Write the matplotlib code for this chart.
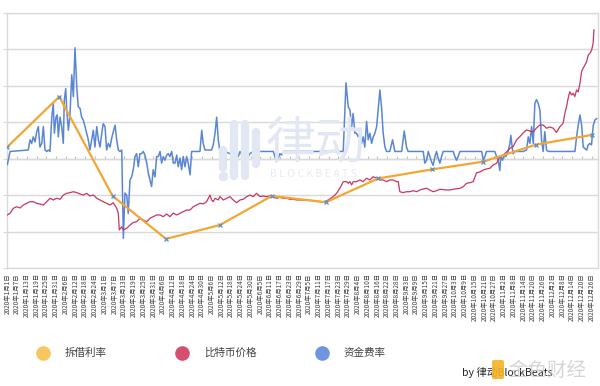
import matplotlib
matplotlib.use("Agg")
import matplotlib.pyplot as plt
from matplotlib.lines import Line2D
from matplotlib.patches import FancyBboxPatch
import pandas as pd
import numpy as np

plt.rcParams['font.family'] = ['Noto Sans CJK SC', 'DejaVu Sans']

# ---------------- data ----------------
series_names = ["拆借利率", "比特币价格", "资金费率"]

# 拆借利率 (borrow rate, %), day index from 2020-01-01
rate_days = [0, 32.0, 64.9, 97.8, 131.0, 162.9, 196.3, 228.5, 262.0, 293.2, 326.0, 360.0]
rate_vals = [6.65, 9.40, 3.96, 1.61, 2.37, 3.96, 3.62, 4.92, 5.42, 5.84, 6.78, 7.30]

# 比特币价格 (USD)
price_days = [0, 1.7, 3.7, 5.8, 7.8, 9.9, 12.0, 14.0, 16.0, 18.1, 20.1, 22.2, 24.3, 26.3, 28.3, 30.4,
              32.5, 34.5, 36.6, 38.6, 40.7, 42.8, 44.8, 46.8, 48.9, 50.9, 53.0, 55.1, 57.1, 59.1, 61.2,
              63.3, 65.3, 67.4, 68.4, 69.0, 70.5, 71.5, 73.6, 75.6, 77.6, 79.7, 81.7, 83.8, 85.9, 87.9,
              89.9, 92.0, 94.1, 96.1, 98.2, 100.2, 102.3, 104.4, 106.4, 108.4, 110.5, 112.6, 114.6, 116.7,
              118.7, 120.8, 122.8, 124.9, 125.9, 126.9, 128.0, 130.0, 131.0, 133.1, 135.2, 137.2, 139.2,
              141.3, 143.4, 145.4, 147.5, 149.5, 151.5, 153.6, 155.7, 157.7, 159.8, 161.8, 163.9, 165.9,
              168.0, 170.0, 172.1, 174.2, 176.2, 178.3, 180.3, 184.4, 188.5, 192.6, 195.7, 197.7, 200.8,
              202.9, 204.9, 206.0, 207.0, 209.1, 210.1, 211.1, 212.2, 213.1, 215.2, 217.3, 219.3, 221.4,
              223.4, 225.5, 227.6, 229.6, 231.6, 233.7, 235.8, 237.8, 239.9, 240.9, 241.9, 243.9, 246.0,
              248.1, 250.1, 252.2, 254.2, 256.3, 258.4, 260.4, 262.4, 264.5, 266.6, 270.7, 272.7, 275.8,
              278.9, 281.0, 283.0, 285.1, 287.1, 289.2, 291.2, 293.3, 295.3, 297.4, 299.4, 301.5, 303.5,
              305.6, 307.6, 309.7, 311.7, 313.8, 315.8, 317.9, 319.9, 322.0, 324.0, 326.1, 328.2, 330.2,
              332.3, 334.3, 336.4, 338.4, 340.5, 342.5, 343.6, 344.6, 345.6, 346.6, 347.7, 348.7, 349.7,
              350.8, 351.8, 352.9, 353.9, 354.9, 356.0, 357.0, 358.0, 359.1, 360.1, 361.0, 361.5]
price_vals = [7260, 7460, 8040, 8230, 8080, 8430, 8630, 8820, 8820, 8630, 8550, 8430, 8820, 9220, 9020, 9220,
              9100, 9600, 9800, 9880, 9990, 9880, 9720, 9600, 9800, 9490, 9600, 9220, 9020, 8820, 8630,
              8430, 8700, 8040, 7460, 5500, 5880, 5500, 5700, 6080, 6380, 6470, 6870, 6670, 6470, 6870,
              7060, 7260, 7260, 7060, 7380, 7060, 7490, 7260, 7460, 7650, 7840, 7840, 8230, 8430,
              8630, 8550, 8820, 9600, 9020, 8820, 9220, 9020, 9410, 9020, 9220, 9410, 9020,
              8700, 9020, 9100, 9410, 9600, 9410, 9800, 9410, 9490, 9410, 9490, 9410, 9220,
              9340, 9220, 9220, 9100, 9100, 9020, 9020, 9020, 8940, 8820, 8820, 9020, 9410,
              9800, 10390, 10780, 11170, 11170, 10980, 11170, 10780, 11170, 11170, 11370, 11170, 11570,
              11370, 11750, 11570, 11370, 11370, 11170, 11370, 11370, 11170, 11170, 9990, 9880, 9990,
              9990, 10110, 9990, 10190, 10310, 10390, 10190, 9990, 10110, 10280, 10190, 10190, 10310,
              10390, 10580, 10980, 11050, 11170, 12220, 12310, 12540, 12660, 12740, 13130, 13330, 14100,
              14300, 14650, 15090, 15280, 16060, 16450, 16880, 17240, 17120, 17000, 17470, 17820, 17820,
              17440, 17590, 17440, 16940, 17620, 18020, 19200, 19970, 20960, 21730, 21350, 21550, 21150,
              21930, 21700, 22720, 24080, 24520, 24870, 25260, 26040, 26240, 26630, 27420, 28980]

# 资金费率 (funding rate, %)
fund_days = [0, 1.7, 12.9, 14.0, 15.0, 16.0, 17.1, 18.1, 19.1, 20.1, 21.2, 22.2, 23.2, 24.3, 25.3, 26.3,
             27.4, 28.3, 29.0, 30.0, 30.8, 31.4, 32.5, 33.5, 34.5, 35.1, 36.0, 36.6, 37.6, 38.6, 39.7,
             40.7, 41.7, 42.8, 43.7, 44.8, 45.8, 46.8, 47.9, 48.9, 49.9, 50.9, 52.0, 53.0, 54.0, 55.1,
             56.1, 57.1, 58.2, 59.1, 60.2, 61.2, 62.2, 63.3, 64.3, 65.3, 66.4, 67.4, 68.4, 69.4, 70.5,
             71.5, 72.5, 73.6, 74.5, 75.6, 76.6, 77.6, 78.7, 79.7, 80.7, 81.7, 82.8, 83.8, 84.8, 85.9,
             86.9, 87.9, 88.9, 89.9, 91.0, 92.0, 93.0, 94.1, 95.1, 96.1, 97.1, 98.2, 99.2, 100.2, 101.3,
             102.3, 103.3, 104.4, 105.3, 106.4, 107.4, 108.4, 109.5, 110.5, 111.5, 112.6, 113.6, 118.7,
             119.8, 120.7, 121.8, 125.9, 126.9, 128.0, 129.0, 130.0, 131.0, 134.1, 137.2, 139.2, 140.3,
             141.3, 142.3, 143.4, 144.4, 145.4, 146.4, 147.5, 148.5, 149.5, 151.5, 152.6, 153.2, 154.0,
             163.9, 164.9, 165.9, 167.0, 168.0, 169.0, 170.0, 207.0, 208.7, 210.1, 211.1, 212.2, 213.1,
             214.2, 215.2, 216.2, 217.3, 218.3, 219.3, 220.3, 221.4, 222.4, 223.4, 224.5, 225.5, 226.5,
             227.6, 228.5, 229.6, 230.6, 231.6, 232.7, 233.7, 235.7, 237.4, 238.8, 243.0, 244.6, 246.0,
             247.0, 256.3, 257.3, 258.4, 259.4, 260.4, 261.4, 262.4, 263.5, 264.5, 265.5, 266.6, 267.6,
             268.6, 274.8, 275.8, 276.8, 277.8, 278.9, 292.3, 293.3, 294.3, 295.3, 300.4, 301.5, 302.5,
             303.5, 304.1, 305.2, 306.0, 307.2, 308.6, 309.7, 310.3, 311.1, 311.7, 312.8, 317.9, 320.0,
             321.0, 322.0, 323.1, 324.1, 325.1, 326.1, 327.1, 328.2, 329.2, 330.2, 331.2, 332.3, 333.3,
             349.8, 350.8, 351.8, 352.9, 353.9, 354.9, 355.9, 357.0, 358.0, 359.0, 360.0, 361.1, 362.1,
             363.2]
fund_vals = [-0.008, 0.010, 0.012, 0.026, 0.021, 0.030, 0.023, 0.037, 0.044, 0.016, 0.021, 0.044, 0.012, 0.010, 0.012, 0.010,
             0.057, 0.076, 0.035, 0.057, 0.060, 0.030, 0.057, 0.044, 0.021, 0.080, 0.096, 0.067, 0.039, 0.060, 0.115,
             0.085, 0.152, 0.098, 0.071, 0.069, 0.057, 0.053, 0.044, 0.035, 0.026, 0.012, 0.026, 0.039, 0.016, 0.044,
             0.026, 0.016, 0.035, 0.048, 0.044, 0.012, 0.021, 0.016, 0.028, 0.037, 0.046, 0.026, 0.012, 0.010, 0.012,
             -0.109, -0.047, -0.050, -0.075, -0.029, -0.025, -0.015, 0.003, 0.007, -0.011, 0.007, 0.007, 0.010, 0.005, -0.006,
             -0.020, -0.029, -0.038, -0.015, -0.025, 0.003, 0.003, 0.010, -0.006, 0.003, -0.002, 0.005, 0.007, 0.003, 0.010,
             -0.006, -0.006, 0.005, -0.011, 0.001, -0.015, 0.003, -0.011, 0.003, -0.006, -0.022, 0.010, 0.010,
             0.039, 0.021, 0.012, 0.012, 0.019, 0.035, 0.057, 0.026, 0.010, 0.010, 0.007, 0.005, 0.001,
             0.007, 0.003, 0.010, 0.006, 0.007, -0.002, -0.010, 0.003, 0.007, 0.010, 0.026, 0.038, 0.010,
             0.010, 0.003, -0.004, 0.001, 0.007, 0.005, 0.010, 0.010, 0.104, 0.071, 0.067, 0.044, 0.062,
             0.035, 0.035, 0.030, 0.035, 0.021, 0.030, 0.016, 0.051, 0.026, 0.035, 0.021, 0.030, 0.035,
             0.044, 0.067, 0.094, 0.071, 0.035, 0.016, 0.010, 0.010, 0.026, 0.010, 0.010, 0.038, 0.016,
             0.010, 0.010, -0.006, -0.002, 0.010, 0.003, -0.004, -0.009, 0.003, 0.010, 0.001, -0.006, 0.003,
             0.010, 0.010, 0.003, -0.002, 0.003, 0.010, 0.010, -0.002, 0.003, 0.010, 0.010, 0.003, -0.002,
             -0.016, 0.003, -0.002, 0.005, 0.003, 0.010, 0.021, 0.032, 0.016, 0.007, 0.010, 0.010, 0.012,
             0.030, 0.021, 0.044, 0.021, 0.076, 0.081, 0.076, 0.067, 0.026, 0.010, 0.037, 0.012, 0.010,
             0.010, 0.030, 0.046, 0.060, 0.046, 0.016, 0.014, 0.012, 0.019, 0.021, 0.019, 0.046, 0.053,
             0.055]

assert len(price_days) == len(price_vals)
assert len(fund_days) == len(fund_vals)

tick_dates = pd.date_range("2020-01-01", "2020-12-31", freq="6D")
tick_days = [(d - tick_dates[0]).days for d in tick_dates]
tick_labels = [f"{d.year}年{d.month}月{d.day}日" for d in tick_dates]

# ---------------- figure ----------------
W, H = 600, 386
fig = plt.figure(figsize=(W / 100, H / 100), dpi=100)
fig.patch.set_facecolor("white")

def fx(px):
    return px / W

def fy(py):
    return 1 - py / H

L, R, T, B = 7, 598, 12.7, 268.3
ax = fig.add_axes([fx(L), fy(B), fx(R) - fx(L), fy(T) - fy(B)])
ax2 = ax.twinx()
ax3 = ax.twinx()

grid_c = "#d9d9d9"
ax.set_xlim(-0.2, 364)
ax.set_ylim(-0.15, 0.20)
ax.set_yticks(np.arange(-0.15, 0.2001, 0.05))
ax.yaxis.grid(True, color=grid_c, lw=1.0)
ax.set_axisbelow(True)
ax.tick_params(axis="y", left=True, labelleft=False, length=3, color=grid_c)
for s in ax.spines.values():
    s.set_color(grid_c)
    s.set_linewidth(1.0)

ax.set_xticks(tick_days)
ax.set_xticklabels(tick_labels, rotation=90, fontsize=4.6, color="#3f3f3f", va="top", ha="center")
ax.tick_params(axis="x", length=0, pad=3.5)

# zero axis line with tick marks
zero_frac = (0 - (-0.15)) / 0.35
sec = ax.secondary_xaxis(zero_frac)
sec.set_xticks(tick_days)
sec.set_xticklabels([])
sec.tick_params(direction="in", length=2.5, color="#bfbfbf", width=0.8)
sec.spines["bottom"].set_color("#bfbfbf")
sec.spines["bottom"].set_linewidth(0.9)

for a in (ax2, ax3):
    a.set_yticks([])
    for s in a.spines.values():
        s.set_visible(False)
    a.patch.set_visible(False)

ax2.set_ylim(1000, 31000)
ax3.set_ylim(0, 14)

# watermark (BlockBeats)
wm_c = "#e1e8f3"
for (xp, y0, y1) in [(223, 150, 168), (234, 124, 176), (245, 124, 176), (256, 132, 164)]:
    fig.add_artist(Line2D([fx(xp), fx(xp)], [fy(y0), fy(y1)], color=wm_c, lw=6,
                          solid_capstyle="round", zorder=0.5))
fig.add_artist(Line2D([fx(223)], [fy(176)], marker="o", ms=6, color=wm_c, lw=0, zorder=0.5))
fig.text(fx(266), fy(144), "律动", fontsize=36, color=wm_c, ha="left", va="center", zorder=0.5)
fig.text(fx(270), fy(174), "B L O C K B E A T S", fontsize=7.5, color="#e6ebf3", ha="left",
         va="center", zorder=0.5)

# series
ax.plot(fund_days, fund_vals, color="#5b86d4", lw=1.1, zorder=3)
ax2.plot(price_days, price_vals, color="#c9365f", lw=0.9, zorder=3)
ax3.plot(rate_days, rate_vals, color="#f2a634", lw=1.6, zorder=4,
         marker="x", ms=3.5, mec="#5b8fc9", mew=0.9)

# legend
leg_cols = ["#f7c65f", "#d4506e", "#6f95de"]
leg_x = [43, 182, 322]
for name, c, xp in zip(series_names, leg_cols, leg_x):
    fig.add_artist(Line2D([fx(xp)], [fy(353)], marker="o", ms=9.5, color=c, lw=0))
    fig.text(fx(xp + 22), fy(353), name, fontsize=7.6, color="#404040", ha="left", va="center")

fig.text(fx(462), fy(372), "by 律动BlockBeats", fontsize=7.6, color="#262626", ha="left",
         va="center", zorder=2)

# 金色财经 overlay logo
fig.add_artist(FancyBboxPatch((fx(492), fy(379)), fx(12), fy(360) - fy(379),
                              boxstyle="round,pad=0,rounding_size=0.004",
                              transform=fig.transFigure, facecolor="#f4b324", edgecolor="none",
                              alpha=0.9, zorder=3))
fig.text(fx(508), fy(370), "金色财经", fontsize=14, color="#c8c8c8", alpha=0.75, ha="left",
         va="center", zorder=3)

fig.savefig("out.png", dpi=100, facecolor="white")
